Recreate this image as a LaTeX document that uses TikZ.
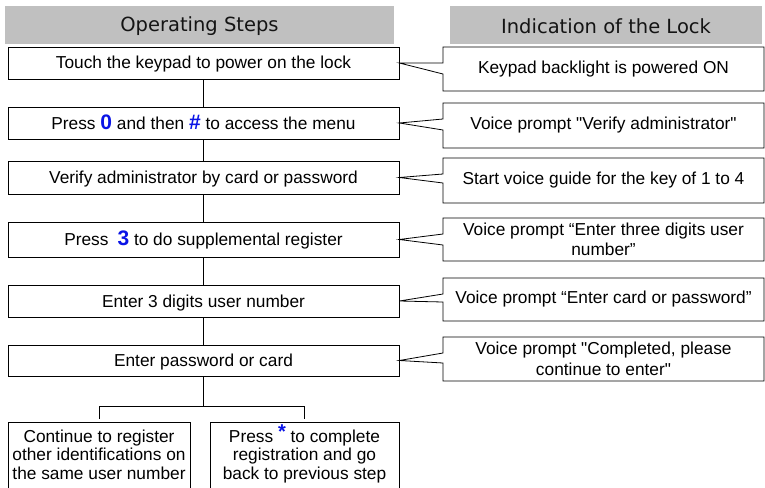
\documentclass[tikz,border=0pt]{standalone}
\usepackage{fontspec}
\newfontfamily\lsans{Liberation Sans}
\newfontfamily\hdrfont{DejaVu Sans}
\definecolor{hdrgray}{HTML}{C0C0C0}
\definecolor{keyblue}{HTML}{0A14E6}
\newcommand{\bodysize}{\lsans\fontsize{17.3}{20}\selectfont}
\newcommand{\keybig}{\fontsize{21}{21}\selectfont\bfseries\color{keyblue}}
\newcommand{\calloutbox}[7]{%
  \draw[boxline] (#6.east) -- (443,#4) -- (443,#2) -- (764,#2) -- (764,#3) -- (443,#3) -- (443,#5) -- cycle;
  \node[callouttext] (#1) at (603.5,{(#2+#3)/2}) {#7};
}
\tikzset{
  boxline/.style={draw=black, line width=0.8pt, line join=miter},
  stepbox/.style={boxline, minimum width=391pt, inner sep=0pt, font=\bodysize, text=black, text height=13.5pt, text depth=1.5pt},
  callouttext/.style={inner sep=0pt, align=center, font=\lsans\fontsize{17.3}{20.5}\selectfont, text=black},
  bottombox/.style={boxline, minimum width=182pt, minimum height=70pt, inner sep=0pt, anchor=north},
  bottomtext/.style={inner sep=0pt, align=center, font=\lsans\fontsize{17.3}{18.7}\selectfont, text=black},
  hdrtext/.style={font=\hdrfont\fontsize{19.5}{22}\selectfont, text=black!92, inner sep=0pt},
  link/.style={draw=black, line width=0.8pt}
}
\begin{document}
\begin{tikzpicture}[x=1pt,y=-1pt]
\useasboundingbox (0,0) rectangle (765,487);
\clip (0,0) rectangle (765,487);
\fill[white] (0,0) rectangle (765,487);
% headers
\fill[hdrgray] (5,6) rectangle (394,44);
\node[hdrtext] (h1) at (199.5,26) {Operating Steps};
\fill[hdrgray] (450,6) rectangle (762,44);
\node[hdrtext] (h2) at (606,26) {Indication of the Lock};
% left steps
\node[stepbox, minimum height=32pt] (b1) at (203.5,63) {Touch the keypad to power on the lock};
\node[stepbox, minimum height=32pt] (b2) at (203.5,123) {Press {\keybig 0} and then {\keybig\#} to access the menu};
\node[stepbox, minimum height=33pt] (b3) at (203.5,177.5) {Verify administrator by card or password};
\node[stepbox, minimum height=35pt] (b4) at (203.5,239.5) {Press\hspace{9pt}{\keybig 3} to do supplemental register};
\node[stepbox, minimum height=32pt] (b5) at (203.5,301) {Enter 3 digits user number};
\node[stepbox, minimum height=31pt] (b6) at (203.5,360.5) {Enter password or card};
\node[bottombox] (bl) at (99,422) {};
\node[bottombox, minimum width=189pt] (br) at (304.5,422) {};
\node[bottomtext] (blt) at (99,457) {\strut Continue to register\\other identifications on\\the same user number\strut};
\node[bottomtext] (brt) at (304.5,457) {\strut Press \raisebox{3.5pt}[0pt][0pt]{\fontsize{20}{20}\selectfont\bfseries\color{keyblue}*} to complete\\registration and go\\back to previous step\strut};
% connectors
\draw[link] (b1) -- (b2);
\draw[link] (b2) -- (b3);
\draw[link] (b3) -- (b4);
\draw[link] (b4) -- (b5);
\draw[link] (b5) -- (b6);
\coordinate (split) at (203.5,406.5);
\draw[link] (b6.south) -- (split);
\draw[link] ([yshift=3pt]bl.north) |- (split) -| ([yshift=3pt]br.north);
% callouts
\calloutbox{c1}{47}{91}{63}{74}{b1}{Keypad backlight is powered ON}
\calloutbox{c2}{103}{148}{119}{130}{b2}{Voice prompt "Verify administrator"}
\calloutbox{c3}{158}{203}{174}{183}{b3}{Start voice guide for the key of 1 to 4}
\calloutbox{c4}{218}{261}{234}{245}{b4}{Voice prompt “Enter three digits user\\number”}
\calloutbox{c5}{278}{321}{294}{302}{b5}{Voice prompt “Enter card or password”}
\calloutbox{c6}{337}{381}{353}{363}{b6}{Voice prompt "Completed, please\\continue to enter"}
\end{tikzpicture}
\end{document}
